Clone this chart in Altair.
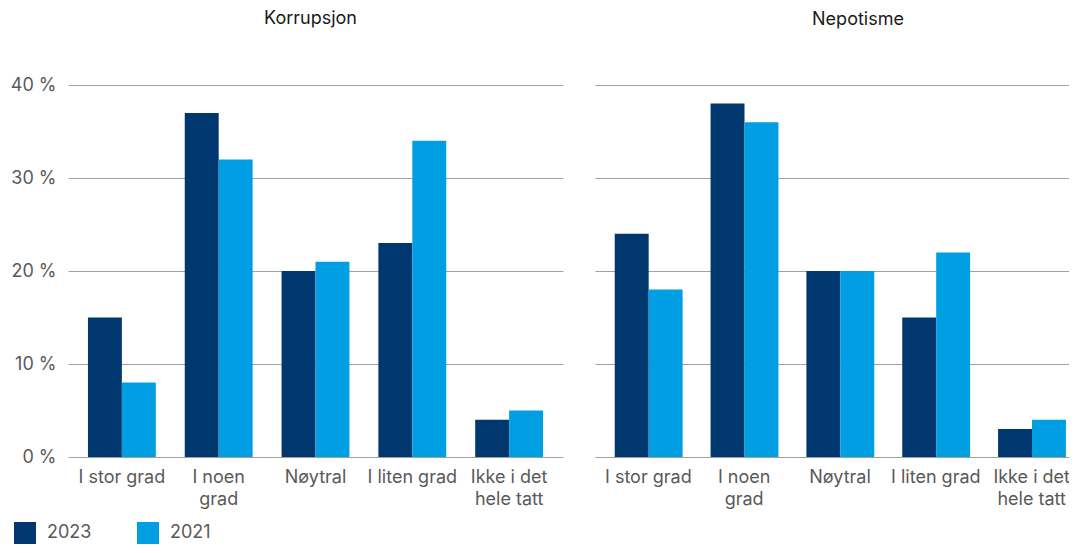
import altair as alt
import pandas as pd

categories = ["I stor grad", "I noen grad", "Nøytral", "I liten grad", "Ikke i det hele tatt"]
years = ["2023", "2021"]
colors = ["#00376F", "#009FE3"]

korrupsjon_2023 = [15, 37, 20, 23, 4]
korrupsjon_2021 = [8, 32, 21, 34, 5]
nepotisme_2023 = [24, 38, 20, 15, 3]
nepotisme_2021 = [18, 36, 20, 22, 4]

y_ticks = [0, 10, 20, 30, 40]

FONT = "Inter"
GRAY = "#595959"


def make_df(v23, v21):
    rows = []
    for c, a, b in zip(categories, v23, v21):
        rows.append({"kategori": c, "år": "2023", "verdi": a})
        rows.append({"kategori": c, "år": "2021", "verdi": b})
    return pd.DataFrame(rows)


label_expr = (
    "datum.value == 'I noen grad' ? ['I noen', 'grad'] : "
    "datum.value == 'Ikke i det hele tatt' ? ['Ikke i det', 'hele tatt'] : datum.value"
)


def panel(df, title, show_y, width, x_range, dx, offset):
    if show_y:
        y_axis = alt.Axis(values=y_ticks, labelExpr="datum.value + ' %'", title=None,
                          domain=False, ticks=False, grid=True, labelPadding=12,
                          labelFontSize=18, labelColor=GRAY, labelFont=FONT)
    else:
        y_axis = alt.Axis(values=y_ticks, labels=False, title=None,
                          domain=False, ticks=False, grid=True)
    return alt.Chart(df, title=alt.Title(title, dx=dx, offset=offset, baseline="alphabetic",
                                         fontSize=18, font=FONT, fontWeight="normal",
                                         color="#1a1a1a", anchor="middle", frame="group")).mark_bar().encode(
        x=alt.X("kategori:N", sort=categories, title=None,
                scale=alt.Scale(range=x_range, paddingInner=0.299, paddingOuter=0.206),
                axis=alt.Axis(labelAngle=0, labelExpr=label_expr, domain=False, ticks=False,
                              labelPadding=11, labelLineHeight=22, labelFontSize=18,
                              labelColor=GRAY, labelFont=FONT, labelLimit=200)),
        xOffset=alt.XOffset("år:N", sort=years,
                            scale=alt.Scale(paddingInner=0, paddingOuter=0)),
        y=alt.Y("verdi:Q", scale=alt.Scale(domain=[0, 40], nice=False), axis=y_axis),
        color=alt.Color("år:N", sort=years,
                        scale=alt.Scale(domain=years, range=colors),
                        legend=alt.Legend(title=None, orient="none", legendX=-54, legendY=437,
                                          direction="horizontal", symbolType="square",
                                          symbolSize=484, symbolStrokeWidth=0,
                                          labelFontSize=18, labelFont=FONT, labelColor=GRAY,
                                          labelOffset=11, columnPadding=45, padding=0)),
    ).properties(width=width, height=372)


left = panel(make_df(korrupsjon_2023, korrupsjon_2021), "Korrupsjon", True, 495, [0, 495], -5, 34)
right = panel(make_df(nepotisme_2023, nepotisme_2021), "Nepotisme", False, 482, [0, 490], 22, 42)

chart = alt.hconcat(left, right, spacing=32).properties(
    autosize=alt.AutoSizeParams(type="none"),
    padding={"left": 60, "top": 77, "right": 1001, "bottom": 460}
).configure(font=FONT).configure_view(strokeWidth=0, stroke="transparent").configure_axis(
    gridColor="#a0a0a0", gridWidth=1
)

chart.save("out.html", embed_options={"renderer": "svg", "actions": False})
